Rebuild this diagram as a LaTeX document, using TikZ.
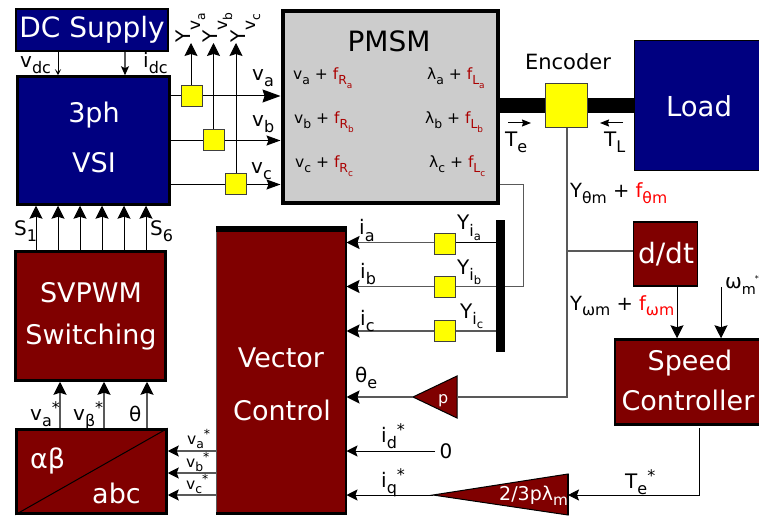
\documentclass[tikz,border=0pt]{standalone}
\usepackage{fontspec}
\setmainfont{DejaVu Sans}
\usetikzlibrary{arrows.meta,calc}
\definecolor{navyb}{HTML}{000080}
\definecolor{maroonb}{HTML}{800000}
\definecolor{pmgray}{HTML}{CCCCCC}
\definecolor{yel}{HTML}{FFFF00}
\definecolor{dkred}{HTML}{AA0000}
\definecolor{wire}{gray}{0.35}
\newcommand\px[1]{\fontsize{#1pt}{#1pt}\selectfont}
\newcommand\Sb[1]{\raisebox{-.3em}{\scalebox{.8}{#1}}}
\newcommand\Sbb[1]{\raisebox{-.3em}{\scalebox{.72}{#1}}}
\newcommand\Sv[1]{\raisebox{-.5em}{\scalebox{.85}{#1}}}
\newcommand\Sp[1]{\raisebox{.35em}{\scalebox{.8}{#1}}}
\tikzset{
  x=1pt,y=-1pt,
  box/.style={draw=black,line width=2.5pt,inner sep=0pt,anchor=center},
  navybox/.style={box,fill=navyb,text=white},
  redbox/.style={box,fill=maroonb,text=white},
  sensor/.style={draw=black!75,line width=1pt,fill=yel,inner sep=0pt,minimum width=21pt,minimum height=21pt,anchor=center},
  big/.style={font=\px{27},text=white,inner sep=0pt,anchor=center},
  lab/.style={font=\px{20},inner sep=0pt,anchor=base west},
  mid/.style={font=\px{15.5},inner sep=0pt,anchor=base west},
  thinw/.style={line width=1pt,draw=black},
  wirew/.style={line width=1.6pt,draw=wire},
  tipL/.style={-{Stealth[length=13pt,width=13pt,inset=2pt,color=black]}},
  tipM/.style={-{Stealth[length=11pt,width=11pt,inset=2pt,color=black]}},
  tipS/.style={-{Stealth[length=6pt,width=6pt,inset=3pt,color=black]}},
}
\begin{document}
\begin{tikzpicture}
\useasboundingbox (0,0) rectangle (759,518);
% helper positions
\coordinate (xA) at (58,0); \coordinate (xB) at (125,0);
\coordinate (s1) at (36,0); \coordinate (s2) at (58,0); \coordinate (s3) at (80,0);
\coordinate (s4) at (102,0); \coordinate (s5) at (124,0); \coordinate (s6) at (146,0);
\coordinate (ya) at (0,96); \coordinate (yb) at (0,140.5); \coordinate (yc) at (0,184.5);
\coordinate (ia) at (0,242.5); \coordinate (ib) at (0,286.5); \coordinate (ic) at (0,331);
\coordinate (tva) at (191,43); \coordinate (tvb) at (213.5,43); \coordinate (tvc) at (236,43);
\coordinate (corner1) at (523,184.5); \coordinate (corner2) at (523,286.5);
\coordinate (xm1) at (60,0); \coordinate (xm2) at (104,0); \coordinate (xm3) at (147,0);
\coordinate (r1) at (0,451); \coordinate (r2) at (0,473); \coordinate (r3) at (0,495);
\coordinate (om) at (721,287); \coordinate (xsp) at (677,0);
\coordinate (ptip) at (413,397); \coordinate (pb1) at (457,376); \coordinate (pb2) at (457,418); \coordinate (pb) at (457,397);
\coordinate (gtip) at (433,495); \coordinate (gb1) at (568,474); \coordinate (gb2) at (568,515); \coordinate (gb) at (568,495);
\coordinate (encturn) at (567,397); \coordinate (encbr) at (567,251);
\coordinate (tq1) at (699,428); \coordinate (tq2) at (699,495);
\coordinate (zz) at (435,451);
% shaft
\fill[black] (500,98) rectangle (634,113);
% boxes
\node[navybox,minimum width=152pt,minimum height=42pt,line width=1.5pt,big,font=\px{28}] (dc) at (92,30) {DC Supply};
\node[navybox,minimum width=152pt,minimum height=128pt] (vsi) at (93.5,140.5) {};
\node[box,fill=pmgray,line width=4pt,minimum width=215pt,minimum height=192pt] (pmsm) at (390,107) {};
\node[navybox,minimum width=125pt,minimum height=130pt,line width=1.5pt] (load) at (697,105.5) {};
\node[sensor,minimum width=42pt,minimum height=44pt] (enc) at (566.5,105.5) {};
\node[redbox,minimum width=64pt,minimum height=64pt,line width=1.5pt] (ddt) at (665.5,254) {};
\node[redbox,minimum width=150pt,minimum height=85pt] (sc) at (690,382) {};
\node[redbox,minimum width=150pt,minimum height=129pt] (sv) at (90.5,316) {};
\node[redbox,minimum width=150pt,minimum height=84pt] (ab) at (91.5,471.5) {};
\draw[black,line width=1pt] (ab.south west) -- (ab.north east);
\node[draw=wire,line width=1pt,fill=maroonb,inner sep=0pt,minimum width=130pt,minimum height=287pt] (vc) at (281,370.5) {};
\fill[black] (vc.north west) rectangle ++(130,6);
\fill[black] (vc.south west) rectangle ++(130,-3);
\fill[black] ($(vc.north east)+(-2,0)$) rectangle (vc.south east);
\node[fill=black,inner sep=0pt,minimum width=9pt,minimum height=132pt] (bar) at (500.5,286) {};
% triangles
\draw[fill=maroonb,draw=black,line width=1pt] (ptip) -- (pb1) -- (pb2) -- cycle;
\draw[fill=maroonb,draw=black,line width=1pt] (gtip) -- (gb1) -- (gb2) -- cycle;
\draw[line width=2.5pt] (gb1) -- (gb2);
% sensors
\node[sensor] (sa) at (191.5,96.5) {};
\node[sensor] (sb) at (213.5,140.5) {};
\node[sensor] (sc2) at (235.5,184.5) {};
\node[sensor] (si1) at (445,244) {};
\node[sensor] (si2) at (445,286.5) {};
\node[sensor] (si3) at (445,331) {};
% connectors
\draw[thinw,tipS] (dc.south -| xA) -- (vsi.north -| xA);
\draw[wirew,line width=1.2pt,-{Stealth[length=9pt,width=8pt,inset=2pt,color=black]}] (dc.south -| xB) -- (vsi.north -| xB);
\foreach \s in {s1,s2,s3,s4,s5,s6}{\draw[thinw,tipL] (sv.north -| \s) -- (vsi.south -| \s);}
\draw[thinw] (vsi.east |- ya) -- (sa.west |- ya);
\draw[thinw] (vsi.east |- yb) -- (sb.west);
\draw[thinw] (vsi.east |- yc) -- (sc2.west);
\draw[thinw,-{Stealth[length=18pt,width=13pt,inset=2pt]}] (sa.east |- ya) -- (pmsm.west |- ya);
\draw[thinw,-{Stealth[length=14pt,width=10pt,inset=2pt]}] (sb.east |- yb) -- (pmsm.west |- yb);
\draw[thinw,-{Stealth[length=14pt,width=10pt,inset=2pt]}] (sc2.east |- yc) -- (pmsm.west |- yc);
\draw[thinw,tipL] (sa.north -| tva) -- (tva);
\draw[thinw,tipL] (sb.north) -- (tvb);
\draw[thinw,tipL] (sc2.north -| tvc) -- (tvc);
\draw[wire,line width=1pt] (pmsm.east |- yc) -- (corner1) -- (corner2) -- (bar.east |- corner2);
\draw[thinw] (bar.west |- ia) -- (si1.east |- ia);
\draw[wirew] (bar.west |- ib) -- (si2.east);
\draw[wirew] (bar.west |- ic) -- (si3.east);
\draw[wirew,tipL] (si1.west |- ia) -- (vc.east |- ia);
\draw[wirew,tipL] (si2.west) -- (vc.east |- ib);
\draw[wirew,tipL] (si3.west) -- (vc.east |- ic);
\draw[wirew] (enc.south -| encturn) -- (encturn) -- (pb);
\draw[wirew] (encbr) -- (ddt.west |- encbr);
\draw[wirew,tipL] (ptip) -- (vc.east |- ptip);
\draw[thinw,tipL] (ddt.south -| xsp) -- (sc.north -| xsp);
\draw[thinw,tipL] (om) -- (sc.north -| om);
\draw[thinw,tipM] (tq1) -- (tq2) -- (gb);
\draw[thinw,tipM] (gtip) -- (vc.east |- gtip);
\draw[thinw,tipM] (zz) -- (vc.east |- zz);
\draw[wirew,tipL] (ab.north -| xm1) -- (sv.south -| xm1);
\draw[wirew,tipL] (ab.north -| xm2) -- (sv.south -| xm2);
\draw[wirew,tipL] (ab.north -| xm3) -- (sv.south -| xm3);
\draw[wirew,tipM] (vc.west |- r1) -- (ab.east |- r1);
\draw[wirew,tipM] (vc.west |- r2) -- (ab.east |- r2);
\draw[wirew,tipM] (vc.west |- r3) -- (ab.east |- r3);
% block text
\node[big] (t3ph) at (94,115) {3ph};
\node[big] (tvsi) at (94,163) {VSI};
\node[font=\px{28},inner sep=0pt] (tpm) at (389,41) {PMSM};
\node[big,font=\px{27.5}] (tload) at (699,106) {Load};
\node[font=\px{21},inner sep=0pt] (tenc) at (568,62) {Encoder};
\node[big,font=\px{28}] (tddt) at (666,254) {d/dt};
\node[big] (tsp) at (690,363) {Speed};
\node[big] (tco) at (688,400) {Controller};
\node[big] (tsv) at (91,293) {SVPWM};
\node[big] (tsw) at (91,337) {Switching};
\node[big] (tve) at (281,358) {Vector};
\node[big] (tvo) at (282,410) {Control};
\node[lab,text=white,font=\px{27}] (tab) at (30,468) {αβ};
\node[lab,text=white,font=\px{27}] (tabc) at (92,503) {abc};
\node[mid,text=white,font=\px{16}] (tp) at (438,403) {p};
\node[lab,text=white,font=\px{19}] (tg) at (499,500) {2/3pλ\Sb{m}};
% labels
\node[lab] (lvdc) at (20,68) {v\Sb{dc}};
\node[lab] (lidc) at (143,68) {i\Sb{dc}};
\node[lab,rotate=90] (lya) at (190,43) {Y\Sv{v\Sbb{a}}};
\node[lab,rotate=90] (lyb) at (217,43) {Y\Sv{v\Sbb{b}}};
\node[lab,rotate=90] (lyc) at (245,43) {Y\Sv{v\Sbb{c}}};
\node[lab] (lva) at (252,81) {v\Sb{a}};
\node[lab] (lvb) at (252,127) {v\Sb{b}};
\node[lab] (lvc) at (251,174) {v\Sb{c}};
\node[mid] (m1) at (293,80) {v\Sb{a} + \textcolor{dkred}{f\Sb{R\Sbb{a}}}};
\node[mid] (m2) at (294,124) {v\Sb{b} + \textcolor{dkred}{f\Sb{R\Sbb{b}}}};
\node[mid] (m3) at (295,168) {v\Sb{c} + \textcolor{dkred}{f\Sb{R\Sbb{c}}}};
\node[mid] (m4) at (427,80) {λ\Sb{a} + \textcolor{dkred}{f\Sb{L\Sbb{a}}}};
\node[mid] (m5) at (425,124) {λ\Sb{b} + \textcolor{dkred}{f\Sb{L\Sbb{b}}}};
\node[mid] (m6) at (429,168) {λ\Sb{c} + \textcolor{dkred}{f\Sb{L\Sbb{c}}}};
\coordinate (ta1) at (508,123); \coordinate (ta2) at (531,123); \coordinate (tb1) at (623,123); \coordinate (tb2) at (600,123);
\draw[thinw,-{Stealth[length=9pt,width=7pt,inset=1pt]}] (ta1) -- (ta2);
\draw[thinw,-{Stealth[length=9pt,width=7pt,inset=1pt]}] (tb1) -- (tb2);
\node[lab] (lte) at (505,147) {T\Sb{e}};
\node[lab] (ltl) at (604,147) {T\Sb{L}};
\node[lab,font=\px{19.5}] (lyth) at (570,198) {Y\Sb{θm} + \textcolor{red}{f\Sb{θm}}};
\node[lab,font=\px{19.5}] (lyom) at (570,310) {Y\Sb{ωm} + \textcolor{red}{f\Sb{ωm}}};
\node[lab] (lia) at (359,235) {i\Sb{a}};
\node[lab] (lib) at (360,278) {i\Sb{b}};
\node[lab] (lic) at (360,325) {i\Sb{c}};
\node[lab] (lyia) at (457,230) {Y\Sb{i\Sbb{a}}};
\node[lab] (lyib) at (457,274) {Y\Sb{i\Sbb{b}}};
\node[lab] (lyic) at (460,318) {Y\Sb{i\Sbb{c}}};
\node[lab] (lom) at (725,288) {ω\Sbb{m}\hspace{-1pt}\Sp{\scalebox{.5}{*}}};
\node[lab] (lte2) at (625,488) {T\Sb{e}\Sp{*}};
\node[lab] (lthe) at (355,382) {θ\Sb{e}};
\node[lab] (lid) at (381,442) {i\Sb{d}\Sp{*}};
\node[lab] (liq) at (381,487) {i\Sb{q}\Sp{*}};
\node[font=\px{20},inner sep=0pt] (l0) at (446,451) {0};
\node[lab] (lS1) at (14,236) {S\Sb{1}};
\node[lab] (lS6) at (150,236) {S\Sb{6}};
\node[lab] (la1) at (30,420) {v\Sb{a}\Sp{*}};
\node[lab] (la2) at (73,420) {v\Sb{β}\Sp{*}};
\node[lab] (la3) at (129,421) {θ};
\node[mid] (lr1) at (187,444) {v\Sb{a}\Sp{*}};
\node[mid] (lr2) at (186,467) {v\Sb{b}\Sp{*}};
\node[mid] (lr3) at (186,489) {v\Sb{c}\Sp{*}};
\end{tikzpicture}
\end{document}
